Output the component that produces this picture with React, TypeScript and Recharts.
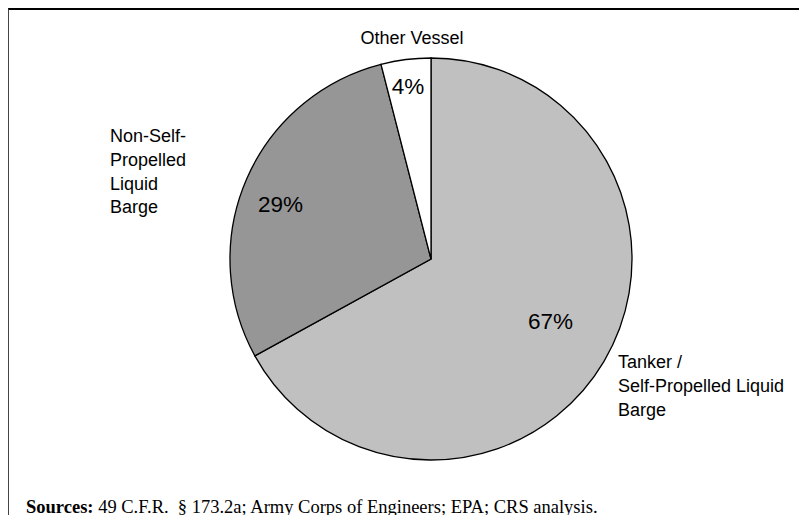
import React from "react";
import { PieChart, Pie, Cell } from "recharts";

const categories = ["Tanker / Self-Propelled Liquid Barge", "Non-Self-Propelled Liquid Barge", "Other Vessel"];
const shares = [67, 29, 4];
const labelLines = [
  ["Tanker /", "Self-Propelled Liquid", "Barge"],
  ["Non-Self-", "Propelled", "Liquid", "Barge"],
  ["Other Vessel"],
];
const colors = ["#C0C0C0", "#969696", "#FFFFFF"];

const data = categories.map((name, i) => ({ name, value: shares[i], lines: labelLines[i] }));

const FONT = "'Liberation Sans', Arial, sans-serif";

// label layout relative to pie center
const outerLayout = [
  { dx: 187, dy: 109, anchor: "start" },
  { dx: -321, dy: -117, anchor: "start" },
  { dx: -19, dy: -215, anchor: "middle" },
];
const pctLayout = [
  { dx: 119.5, dy: 70 },
  { dx: -150.5, dy: -47 },
  { dx: -23, dy: -165 },
];
const LINE_H = 23.8;

const renderLabel = (props: any) => {
  const { cx, cy, index, value, payload } = props;
  const o = outerLayout[index];
  const p = pctLayout[index];
  const lines: string[] = (payload && payload.lines) || data[index].lines;
  return (
    <g key={`lbl-${index}`}>
      <text
        x={cx + p.dx}
        y={cy + p.dy}
        textAnchor="middle"
        fontFamily={FONT}
        fontSize={22.5}
        fill="#000"
      >
        {`${value}%`}
      </text>
      <text x={cx + o.dx} y={cy + o.dy} textAnchor={o.anchor} fontFamily={FONT} fontSize={18} fill="#000">
        {lines.map((l, k) => (
          <tspan key={k} x={cx + o.dx} dy={k === 0 ? 0 : LINE_H}>
            {l}
          </tspan>
        ))}
      </text>
    </g>
  );
};

export default function App() {
  return (
    <div
      style={{
        position: "relative",
        width: 798,
        height: 507,
        borderTop: "2px solid #000",
        borderLeft: "1px solid #444",
        boxSizing: "border-box",
        background: "#fff",
      }}
    >
      <PieChart width={797} height={505} style={{ position: "absolute", left: 0, top: 0 }}>
        <Pie
          data={data}
          dataKey="value"
          nameKey="name"
          cx={417}
          cy={244}
          outerRadius={201}
          startAngle={90}
          endAngle={-270}
          stroke="#000"
          strokeWidth={1.3}
          label={renderLabel}
          labelLine={false}
          isAnimationActive={false}
        >
          {data.map((d, i) => (
            <Cell key={d.name} fill={colors[i]} />
          ))}
        </Pie>
      </PieChart>
      <div
        style={{
          position: "absolute",
          left: 17,
          top: 488,
          lineHeight: 1,
          fontFamily: "'Liberation Serif', 'Times New Roman', serif",
          fontSize: 18.5,
          whiteSpace: "pre",
          color: "#000",
        }}
      >
        <b>Sources:</b>
        {" 49 C.F.R.  § 173.2a; Army Corps of Engineers; EPA; CRS analysis."}
      </div>
    </div>
  );
}
